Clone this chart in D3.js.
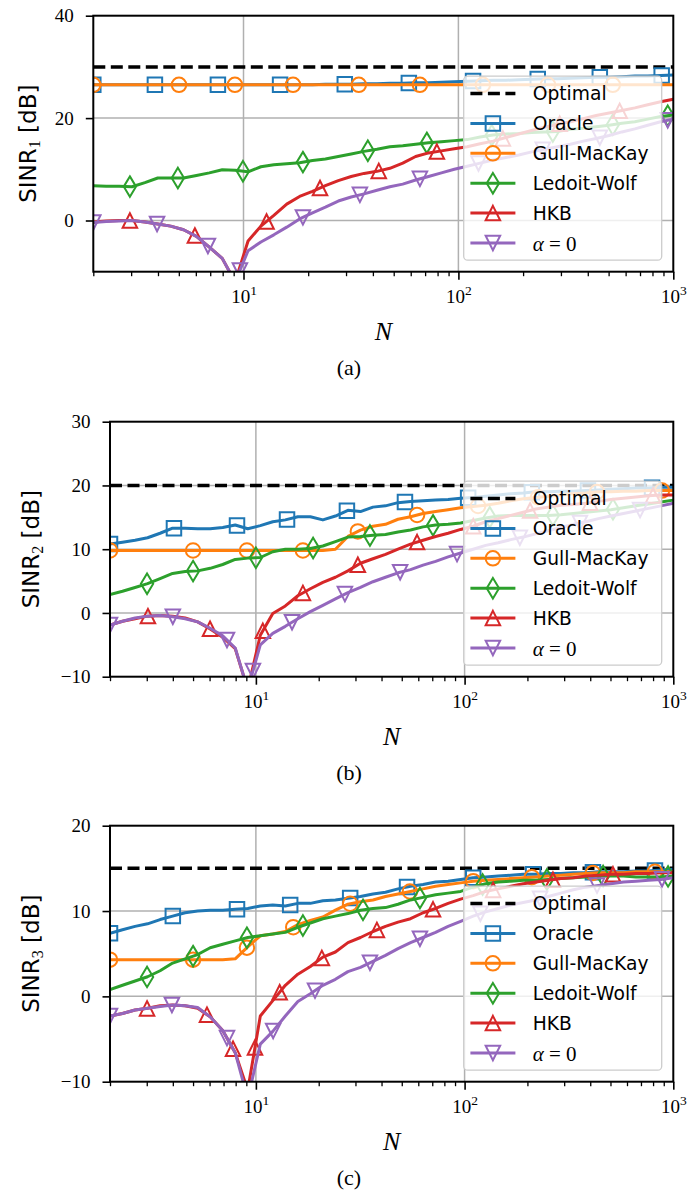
<!DOCTYPE html>
<html>
<head>
<meta charset="utf-8">
<script src="https://cdn.jsdelivr.net/npm/d3@7"></script>
<style>
  html, body { margin: 0; padding: 0; background: #fff; }
  svg { display: block; }
</style>
</head>
<body>
<div id="chart"></div>
<script>
// Sample sizes N (shared x grid, log spaced)
const N = [2, 2.296, 2.637, 3.027, 3.476, 3.991, 4.582, 5.261, 6.04, 6.935,
  7.962, 9.142, 10.5, 12.05, 13.84, 15.89, 18.24, 20.94, 24.05, 27.61,
  31.7, 36.39, 41.79, 47.98, 55.08, 63.25, 72.62, 83.37, 95.73, 109.9,
  126.2, 144.9, 166.4, 191, 219.3, 251.8, 289.1, 331.9, 381.1, 437.6,
  502.4, 576.8, 662.3, 760.4, 873, 1000];

// Optimal SINR [dB] for panels a, b, c
const optimalDb = [30, 20, 15];

// ---- Panel (a): SINR_1 ----
const oracleA = [26.5, 26.5, 26.5, 26.5, 26.5, 26.5, 26.5, 26.5, 26.5, 26.5,
  26.5, 26.5, 26.5, 26.5, 26.5, 26.5, 26.5, 26.5, 26.6, 26.6,
  26.6, 26.7, 26.7, 26.8, 26.8, 26.9, 26.9, 27.0, 27.1, 27.2,
  27.3, 27.4, 27.4, 27.5, 27.6, 27.7, 27.7, 27.8, 27.9, 28.0,
  28.0, 28.1, 28.2, 28.2, 28.3, 28.4];
const gullA = [26.5, 26.5, 26.5, 26.5, 26.5, 26.5, 26.5, 26.5, 26.5, 26.5,
  26.5, 26.5, 26.5, 26.5, 26.5, 26.5, 26.5, 26.5, 26.5, 26.5,
  26.5, 26.5, 26.5, 26.5, 26.5, 26.5, 26.5, 26.5, 26.5, 26.5,
  26.5, 26.5, 26.5, 26.5, 26.5, 26.5, 26.5, 26.5, 26.5, 26.5,
  26.5, 26.5, 26.5, 26.5, 26.5, 26.5];
const lwA = [6.8, 6.7, 6.7, 6.6, 7.4, 8.3, 8.3, 8.3, 8.8, 9.3,
  9.9, 9.8, 9.5, 10.5, 10.9, 11.1, 11.3, 11.7, 12.0, 12.5,
  13.0, 13.5, 13.9, 14.4, 14.6, 14.9, 15.2, 15.4, 15.6, 15.8,
  16.3, 16.7, 16.9, 17.0, 17.2, 17.3, 17.4, 17.8, 18.0, 18.3,
  18.6, 19.0, 19.3, 19.8, 20.3, 20.6];
const hkbA = [-0.3, -0.1, 0.0, 0.0, -0.3, -0.7, -1.1, -1.8, -3.1, -5.2,
  -7.4, -12, -4.0, -1.1, 1.0, 3.2, 4.7, 5.7, 6.8, 7.8,
  8.6, 9.2, 9.6, 10.2, 11.2, 12.5, 13.2, 13.6, 14.0, 14.4,
  15.0, 15.5, 16.2, 16.9, 17.6, 18.2, 18.8, 19.3, 19.9, 20.5,
  21.0, 21.5, 22.0, 22.6, 23.2, 23.7];
const alphaA = [-0.4, -0.2, -0.1, 0.0, -0.3, -0.7, -1.1, -1.8, -3.1, -5.2,
  -7.4, -12, -5.9, -4.2, -2.8, -1.3, 0.3, 1.5, 2.6, 3.8,
  4.6, 5.2, 5.9, 6.6, 7.1, 7.9, 8.6, 9.3, 10.0, 10.6,
  11.2, 11.8, 12.3, 12.8, 13.4, 13.9, 14.4, 14.9, 15.5, 16.0,
  16.6, 17.3, 17.9, 18.6, 19.3, 19.8];

// ---- Panel (b): SINR_2 ----
const oracleB = [10.8, 11.1, 11.4, 11.8, 12.5, 13.3, 13.3, 13.2, 13.2, 13.4,
  13.8, 13.2, 13.7, 14.3, 14.6, 15.1, 15.1, 14.6, 15.2, 16.1,
  15.9, 16.6, 16.8, 17.3, 17.5, 17.6, 17.7, 17.8, 18.0, 18.1,
  18.3, 18.5, 18.7, 18.8, 19.0, 19.0, 19.1, 19.1, 19.2, 19.3,
  19.4, 19.5, 19.6, 19.6, 19.7, 19.7];
const gullB = [9.8, 9.8, 9.8, 9.8, 9.8, 9.8, 9.8, 9.8, 9.8, 9.8,
  9.8, 9.8, 9.8, 9.8, 9.8, 9.8, 9.8, 9.8, 10.0, 12.0,
  13.0, 13.6, 13.9, 14.7, 15.1, 15.6, 15.9, 16.2, 16.5, 16.7,
  16.9, 17.2, 17.6, 17.9, 18.1, 18.3, 18.5, 18.7, 18.8, 19.0,
  19.0, 19.1, 19.1, 19.2, 19.2, 19.2];
const lwB = [2.9, 3.4, 4.0, 4.6, 5.4, 6.2, 6.5, 6.6, 7.0, 7.6,
  8.4, 8.6, 8.7, 9.6, 10.0, 10.0, 10.1, 10.5, 11.2, 11.9,
  12.0, 12.2, 12.3, 12.7, 13.0, 13.5, 13.8, 13.9, 14.1, 14.5,
  14.9, 15.2, 15.3, 15.3, 15.3, 15.3, 15.4, 15.6, 15.8, 16.0,
  16.2, 16.5, 16.8, 17.1, 17.4, 17.7];
const hkbB = [-1.9, -1.3, -0.9, -0.5, -0.4, -0.5, -0.8, -1.4, -2.5, -3.8,
  -5.6, -12, -3.5, -0.1, 1.1, 2.7, 3.8, 4.8, 5.6, 6.6,
  7.8, 8.5, 9.2, 10.0, 10.8, 11.4, 12.0, 12.5, 13.1, 13.6,
  14.3, 14.8, 15.3, 15.8, 16.3, 16.6, 16.9, 17.0, 17.2, 17.5,
  17.8, 18.0, 18.2, 18.4, 18.5, 18.5];
const alphaB = [-1.9, -1.3, -0.8, -0.5, -0.4, -0.6, -0.9, -1.4, -2.4, -3.6,
  -5.5, -12, -5.0, -3.2, -2.1, -0.9, 0.2, 1.2, 2.2, 3.2,
  4.0, 4.9, 5.6, 6.3, 6.8, 7.5, 8.1, 8.8, 9.4, 10.0,
  10.6, 11.0, 11.5, 11.9, 12.4, 12.9, 13.4, 13.9, 14.3, 14.8,
  15.2, 15.6, 16.0, 16.4, 16.8, 17.2];

// ---- Panel (c): SINR_3 ----
const oracleC = [7.4, 7.8, 8.2, 8.5, 9.0, 9.4, 9.8, 10.0, 10.1, 10.1,
  10.2, 10.3, 10.6, 10.7, 10.6, 10.9, 10.9, 11.2, 11.3, 11.5,
  11.7, 12.0, 12.2, 12.6, 12.9, 13.1, 13.4, 13.5, 13.7, 13.9,
  14.0, 14.1, 14.2, 14.3, 14.3, 14.4, 14.4, 14.5, 14.5, 14.6,
  14.6, 14.6, 14.7, 14.7, 14.8, 14.9];
const gullC = [4.3, 4.3, 4.3, 4.3, 4.3, 4.3, 4.3, 4.3, 4.3, 4.3,
  4.4, 5.8, 7.1, 7.3, 7.6, 8.4, 8.9, 9.3, 10.1, 10.8,
  11.1, 11.3, 11.7, 12.0, 12.3, 12.6, 12.9, 13.1, 13.3, 13.5,
  13.6, 13.7, 13.8, 13.9, 14.0, 14.1, 14.2, 14.3, 14.4, 14.5,
  14.5, 14.5, 14.6, 14.6, 14.6, 14.6];
const lwC = [0.8, 1.3, 1.8, 2.3, 3.0, 3.9, 4.4, 4.9, 5.7, 6.1,
  6.5, 6.9, 7.1, 7.3, 7.5, 8.1, 8.6, 9.1, 9.4, 9.7,
  10.1, 10.3, 10.4, 10.8, 11.3, 11.6, 11.9, 12.1, 12.3, 12.8,
  13.2, 13.4, 13.5, 13.6, 13.6, 13.7, 13.8, 13.9, 14.0, 14.1,
  14.1, 14.1, 14.0, 14.0, 14.0, 14.1];
const hkbC = [-2.3, -2.0, -1.6, -1.4, -1.1, -1.0, -1.1, -1.4, -2.4, -4.0,
  -6.6, -11, -2.3, -0.5, 1.3, 2.6, 3.5, 4.6, 5.2, 6.3,
  6.9, 7.6, 8.2, 8.7, 9.1, 9.8, 10.3, 10.9, 11.4, 11.8,
  12.3, 12.6, 12.9, 13.2, 13.4, 13.6, 13.8, 13.9, 14.1, 14.2,
  14.3, 14.3, 14.4, 14.4, 14.5, 14.5];
const alphaC = [-2.3, -2.0, -1.6, -1.4, -1.2, -1.0, -1.1, -1.3, -2.4, -4.0,
  -6.6, -12, -5.6, -4.1, -2.3, -0.6, 0.3, 1.3, 2.0, 2.9,
  3.4, 4.1, 4.8, 5.6, 6.3, 6.9, 7.5, 8.2, 8.8, 9.4,
  9.9, 10.3, 10.7, 11.0, 11.3, 11.7, 12.1, 12.5, 12.8, 13.0,
  13.2, 13.4, 13.5, 13.6, 13.7, 13.9];

// Marker locations (N values)
const mkOracleA = [2, 3.87, 7.6, 14.8, 29.6, 58.8, 117, 234, 455, 883];
const mkGullA = [2, 5.01, 9.12, 17.0, 34.4, 66.2, 130, 261, 523];
const mkLwA = [2.96, 4.95, 9.94, 18.9, 37.9, 71.3, 143, 275, 523, 942];
const mkHkbA = [2.96, 5.94, 12.8, 22.7, 42.6, 79.4, 161, 296, 563];
const mkAlphaA = [2, 3.96, 6.83, 9.62, 18.9, 34.8, 66.2, 124, 247, 455, 942];

const mkOracleB = [2, 4.05, 8.12, 14.1, 27.3, 51.8, 104, 210, 390, 791];
const mkGullB = [2, 5.0, 9.06, 16.8, 30.8, 59.2, 116, 225, 431, 883];
const mkLwB = [3.01, 5.0, 10.0, 18.8, 35.2, 70.6, 132, 265, 514];
const mkHkbB = [3.04, 6.03, 10.8, 16.8, 30.8, 59.2, 110, 206, 399, 800];
const mkAlphaB = [2, 4.0, 7.27, 9.68, 14.9, 26.7, 49.1, 92, 184, 357, 693];

const mkOracleC = [2, 4.0, 8.12, 14.6, 28.3, 53, 110, 213, 412, 817];
const mkGullC = [2, 5.0, 9.06, 15.1, 28.3, 54.7, 110, 210, 412, 817];
const mkLwC = [3.01, 5.0, 9.06, 16.8, 32.6, 61.1, 122, 248, 461, 944];
const mkHkbC = [3.01, 5.83, 7.77, 9.9, 13.0, 20.7, 38.0, 70.6, 137, 265, 514];
const mkAlphaC = [2, 3.96, 7.27, 12.1, 19.2, 35.2, 61.1, 119, 230, 431, 883];

// Series styling
const seriesNames = ["Oracle", "Gull-MacKay", "Ledoit-Wolf", "HKB", "alpha"];
const seriesColors = ["#1f77b4", "#ff7f0e", "#2ca02c", "#d62728", "#9467bd"];
const seriesMarkers = ["square", "circle", "thinDiamond", "triUp", "triDown"];

const xMajor = [10, 100, 1000];
const xMinor = [2, 3, 4, 5, 6, 7, 8, 9, 20, 30, 40, 50, 60, 70, 80, 90,
  200, 300, 400, 500, 600, 700, 800, 900];

// Layout
const width = 692;
const height = 1191;
const axRight = 673.3;
const SERIF = "'Liberation Serif', 'DejaVu Serif', serif";
const SANS = "'DejaVu Sans', 'Liberation Sans', sans-serif";
const MS = 14.5; // marker size
const DASH = "12,5.5";

const panels = [
  { tag: "(a)", sub: "1", left: 93.3, top: 15.7, bottom: 271.7, yDomain: [-10, 40], yTicks: [0, 20, 40],
    labelX: 36, opt: optimalDb[0],
    values: [oracleA, gullA, lwA, hkbA, alphaA],
    marks: [mkOracleA, mkGullA, mkLwA, mkHkbA, mkAlphaA] },
  { tag: "(b)", sub: "2", left: 110, top: 421.7, bottom: 676.7, yDomain: [-10, 30], yTicks: [-10, 0, 10, 20, 30],
    labelX: 38.5, opt: optimalDb[1],
    values: [oracleB, gullB, lwB, hkbB, alphaB],
    marks: [mkOracleB, mkGullB, mkLwB, mkHkbB, mkAlphaB] },
  { tag: "(c)", sub: "3", left: 110, top: 825.7, bottom: 1081.7, yDomain: [-10, 20], yTicks: [-10, 0, 10, 20],
    labelX: 38.5, opt: optimalDb[2],
    values: [oracleC, gullC, lwC, hkbC, alphaC],
    marks: [mkOracleC, mkGullC, mkLwC, mkHkbC, mkAlphaC] }
];

const svg = d3.select("#chart").append("svg")
  .attr("width", width)
  .attr("height", height);

svg.append("rect").attr("width", width).attr("height", height).attr("fill", "#fff");

// Helper functions
function markerPath(type, s) {
  const h = s / 2;
  switch (type) {
    case "square":
      return `M${-h},${-h}H${h}V${h}H${-h}Z`;
    case "circle":
      return `M${h},0A${h},${h} 0 1,1 ${-h},0A${h},${h} 0 1,1 ${h},0Z`;
    case "thinDiamond": {
      const dy = h * Math.SQRT2;
      const dx = dy * 0.6;
      return `M0,${-dy}L${dx},0L0,${dy}L${-dx},0Z`;
    }
    case "triUp":
      return `M0,${-h}L${h},${h}L${-h},${h}Z`;
    case "triDown":
      return `M0,${h}L${h},${-h}L${-h},${-h}Z`;
  }
}

// value of a series at N=n, read along the drawn (log-x) line
function valueAt(vals, n) {
  let k = d3.bisectRight(N, n) - 1;
  k = Math.max(0, Math.min(N.length - 2, k));
  const t = (Math.log10(n) - Math.log10(N[k])) / (Math.log10(N[k + 1]) - Math.log10(N[k]));
  return vals[k] + t * (vals[k + 1] - vals[k]);
}

function fmtY(d) {
  return d < 0 ? "\u2212" + Math.abs(d) : String(d);
}

function drawPanel(p, i) {
  const x = d3.scaleLog().domain([2, 1000]).range([p.left, axRight]);
  const y = d3.scaleLinear().domain(p.yDomain).range([p.bottom, p.top]);

  const clipId = "clip" + i;
  svg.append("clipPath").attr("id", clipId)
    .append("rect")
    .attr("x", p.left).attr("y", p.top)
    .attr("width", axRight - p.left).attr("height", p.bottom - p.top);

  // Grid
  const grid = svg.append("g").attr("stroke", "#b0b0b0").attr("stroke-width", 1.5);
  grid.selectAll(".gx").data([10, 100]).join("line")
    .attr("x1", (d) => x(d)).attr("x2", (d) => x(d))
    .attr("y1", p.top).attr("y2", p.bottom);
  grid.selectAll(".gy").data(p.yTicks.filter((d) => d > p.yDomain[0] && d < p.yDomain[1])).join("line")
    .attr("x1", p.left).attr("x2", axRight)
    .attr("y1", (d) => y(d)).attr("y2", (d) => y(d));

  // Data
  const plot = svg.append("g").attr("clip-path", `url(#${clipId})`);

  plot.append("line")
    .attr("x1", x(N[0])).attr("x2", x(N[N.length - 1]))
    .attr("y1", y(p.opt)).attr("y2", y(p.opt))
    .attr("stroke", "#000").attr("stroke-width", 3.5)
    .attr("stroke-dasharray", DASH);

  const line = d3.line().x((d) => x(d[0])).y((d) => y(d[1]));

  p.values.forEach((vals, s) => {
    plot.append("path")
      .attr("d", line(N.map((n, k) => [n, vals[k]])))
      .attr("fill", "none")
      .attr("stroke", seriesColors[s])
      .attr("stroke-width", 3)
      .attr("stroke-linejoin", "round");

    plot.selectAll(null)
      .data(p.marks[s])
      .join("path")
      .attr("transform", (n) => `translate(${x(n)},${y(valueAt(vals, n))})`)
      .attr("d", markerPath(seriesMarkers[s], MS))
      .attr("fill", "none")
      .attr("stroke", seriesColors[s])
      .attr("stroke-width", 2);
  });

  // X axis (minor + major ticks)
  const gMinor = svg.append("g")
    .attr("transform", `translate(0,${p.bottom})`)
    .call(d3.axisBottom(x).tickValues(xMinor).tickSize(4.5).tickFormat(""));
  gMinor.select(".domain").remove();
  gMinor.selectAll(".tick line").attr("stroke-width", 1.3);

  const gMajor = svg.append("g")
    .attr("transform", `translate(0,${p.bottom})`)
    .call(d3.axisBottom(x).tickValues(xMajor).tickSize(8).tickPadding(10).tickFormat(""))
    .attr("font-family", SERIF)
    .attr("font-size", 19);
  gMajor.select(".domain").remove();
  gMajor.selectAll(".tick line").attr("stroke-width", 1.6);
  gMajor.selectAll(".tick text").each(function (d) {
    const t = d3.select(this).attr("fill", "#000");
    t.append("tspan").text("10");
    t.append("tspan").attr("dy", -8).attr("font-size", 13.5).text(Math.round(Math.log10(d)));
  });

  // Y axis
  const gy = svg.append("g")
    .attr("transform", `translate(${p.left},0)`)
    .call(d3.axisLeft(y).tickValues(p.yTicks).tickSize(7.5).tickPadding(12).tickFormat(fmtY))
    .attr("font-family", SERIF)
    .attr("font-size", 19);
  gy.select(".domain").remove();
  gy.selectAll(".tick line").attr("stroke-width", 1.6);
  gy.selectAll(".tick text").attr("fill", "#000");

  // Frame
  svg.append("rect")
    .attr("x", p.left).attr("y", p.top)
    .attr("width", axRight - p.left).attr("height", p.bottom - p.top)
    .attr("fill", "none").attr("stroke", "#000").attr("stroke-width", 2);

  // Y label: SINR_k [dB]
  const yl = svg.append("text")
    .attr("transform", `translate(${p.labelX},${(p.top + p.bottom) / 2}) rotate(-90)`)
    .attr("text-anchor", "middle")
    .attr("font-family", SANS)
    .attr("font-size", 23);
  yl.append("tspan").text("SINR");
  yl.append("tspan").attr("font-family", SERIF).attr("font-size", 16).attr("dy", 4).text(p.sub);
  yl.append("tspan").attr("dy", -4).text("\u00a0[dB]");

  // X label
  svg.append("text")
    .attr("x", (p.left + axRight) / 2)
    .attr("y", p.bottom + 68)
    .attr("text-anchor", "middle")
    .attr("font-family", SERIF)
    .attr("font-style", "italic")
    .attr("font-size", 26)
    .text("N");

  // Caption
  svg.append("text")
    .attr("x", 349)
    .attr("y", p.bottom + 103)
    .attr("text-anchor", "middle")
    .attr("font-family", SERIF)
    .attr("font-size", 22)
    .text(p.tag);

  // Legend
  const legW = 198, legH = 184;
  const lx = axRight - 11.6 - legW;
  const ly = p.bottom - 11.5 - legH;
  const leg = svg.append("g").attr("transform", `translate(${lx},${ly})`);
  leg.append("rect")
    .attr("width", legW).attr("height", legH)
    .attr("rx", 4)
    .attr("fill", "#fff").attr("fill-opacity", 0.8)
    .attr("stroke", "#cccccc").attr("stroke-width", 1.3);

  const rows = ["Optimal"].concat(seriesNames);
  rows.forEach((name, r) => {
    const cy = 17.3 + r * 29.9;
    const row = leg.append("g").attr("transform", `translate(0,${cy})`);
    if (r === 0) {
      row.append("line")
        .attr("x1", 6.7).attr("x2", 51.7)
        .attr("stroke", "#000").attr("stroke-width", 3.5)
        .attr("stroke-dasharray", DASH);
    } else {
      const s = r - 1;
      row.append("line")
        .attr("x1", 6.7).attr("x2", 51.7)
        .attr("stroke", seriesColors[s]).attr("stroke-width", 3);
      row.append("path")
        .attr("transform", "translate(29.2,0)")
        .attr("d", markerPath(seriesMarkers[s], MS))
        .attr("fill", "none")
        .attr("stroke", seriesColors[s])
        .attr("stroke-width", 2);
    }
    const txt = row.append("text")
      .attr("x", 69)
      .attr("dy", "0.36em")
      .attr("font-size", 18.7);
    if (name === "alpha") {
      txt.attr("font-family", SERIF).attr("font-size", 21);
      txt.append("tspan").attr("font-style", "italic").text("\u03b1");
      txt.append("tspan").text(" = 0");
    } else {
      txt.attr("font-family", SANS).text(name);
    }
  });
}

panels.forEach((p, i) => drawPanel(p, i));
</script>
</body>
</html>
